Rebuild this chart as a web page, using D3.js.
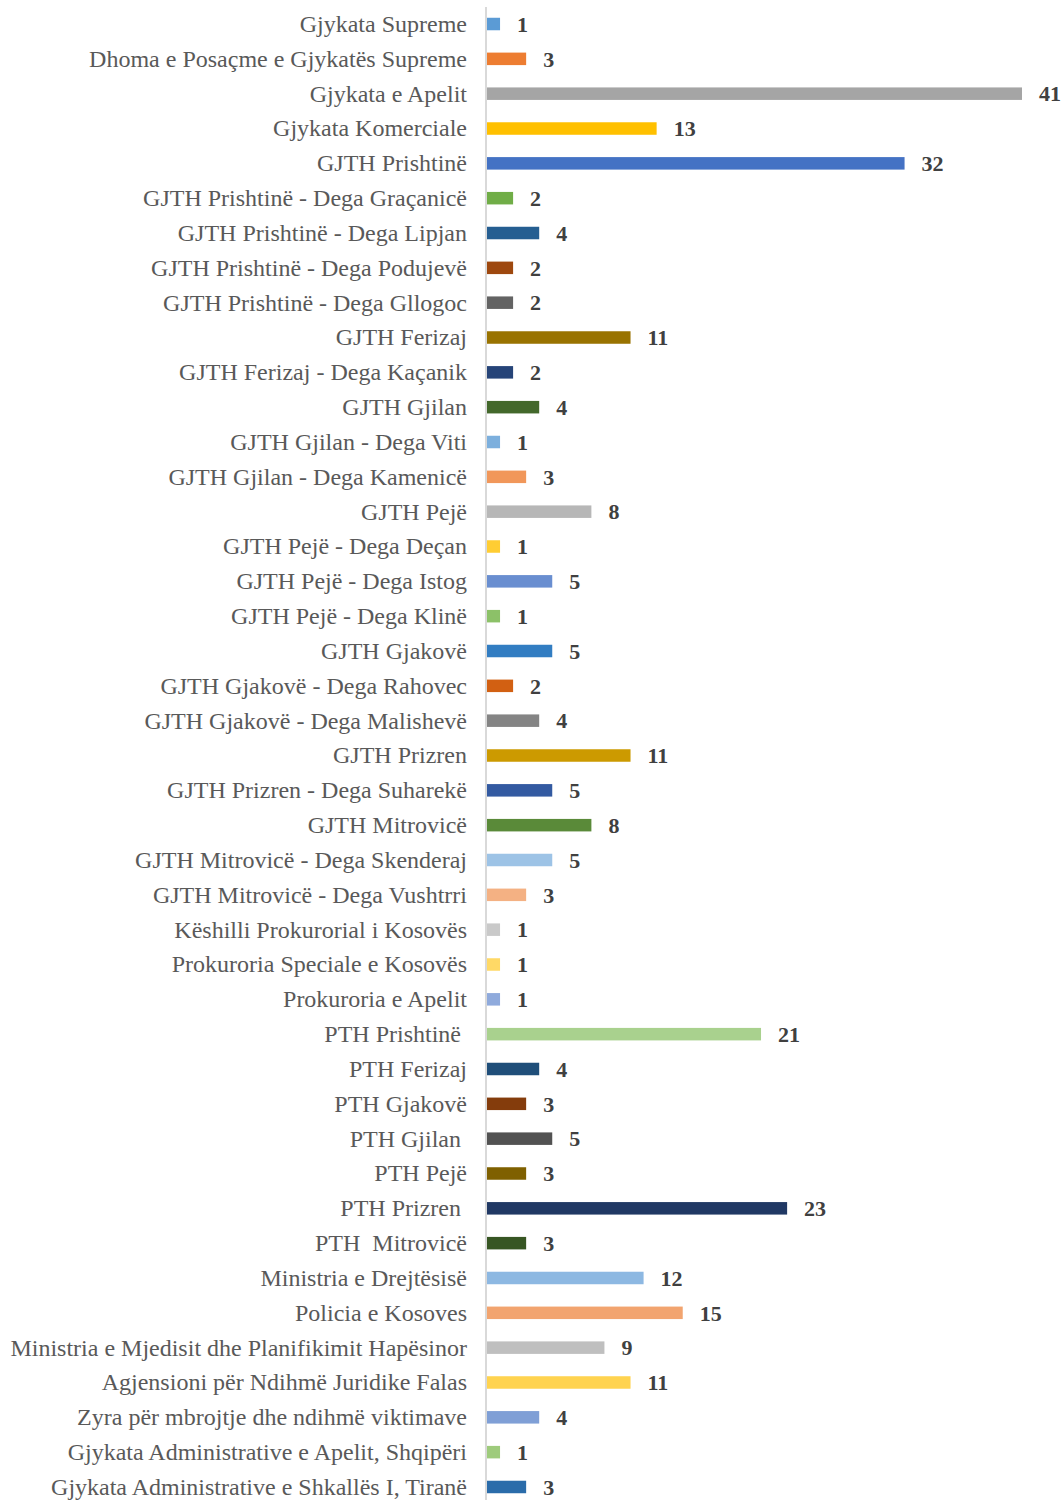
<!DOCTYPE html>
<html>
<head>
<meta charset="utf-8">
<script src="https://cdn.jsdelivr.net/npm/d3@7"></script>
<style>
  body { margin: 0; background: #fff; }
  .cat { font-family: "Liberation Serif", "Times New Roman", serif; font-size: 24px; fill: #595959; }
  .val { font-family: "Liberation Serif", "Times New Roman", serif; font-size: 22px; font-weight: bold; fill: #404040; }
</style>
</head>
<body>
<div id="chart"></div>
<script>
// categories, top to bottom
var categories = [
  "Gjykata Supreme",
  "Dhoma e Posaçme e Gjykatës Supreme",
  "Gjykata e Apelit",
  "Gjykata Komerciale",
  "GJTH Prishtinë",
  "GJTH Prishtinë - Dega Graçanicë",
  "GJTH Prishtinë - Dega Lipjan",
  "GJTH Prishtinë - Dega Podujevë",
  "GJTH Prishtinë - Dega Gllogoc",
  "GJTH Ferizaj",
  "GJTH Ferizaj - Dega Kaçanik",
  "GJTH Gjilan",
  "GJTH Gjilan - Dega Viti",
  "GJTH Gjilan - Dega Kamenicë",
  "GJTH Pejë",
  "GJTH Pejë - Dega Deçan",
  "GJTH Pejë - Dega Istog",
  "GJTH Pejë - Dega Klinë",
  "GJTH Gjakovë",
  "GJTH Gjakovë - Dega Rahovec",
  "GJTH Gjakovë - Dega Malishevë",
  "GJTH Prizren",
  "GJTH Prizren - Dega Suharekë",
  "GJTH Mitrovicë",
  "GJTH Mitrovicë - Dega Skenderaj",
  "GJTH Mitrovicë - Dega Vushtrri",
  "Këshilli Prokurorial i Kosovës",
  "Prokuroria Speciale e Kosovës",
  "Prokuroria e Apelit",
  "PTH Prishtinë ",
  "PTH Ferizaj",
  "PTH Gjakovë",
  "PTH Gjilan ",
  "PTH Pejë",
  "PTH Prizren ",
  "PTH  Mitrovicë",
  "Ministria e Drejtësisë",
  "Policia e Kosoves",
  "Ministria e Mjedisit dhe Planifikimit Hapësinor",
  "Agjensioni për Ndihmë Juridike Falas",
  "Zyra për mbrojtje dhe ndihmë viktimave",
  "Gjykata Administrative e Apelit, Shqipëri",
  "Gjykata Administrative e Shkallës I, Tiranë"
]

var values = [1, 3, 41, 13, 32, 2, 4, 2, 2, 11, 2, 4, 1, 3, 8, 1, 5, 1, 5, 2, 4, 11, 5, 8, 5, 3,
  1, 1, 1, 21, 4, 3, 5, 3, 23, 3, 12, 15, 9, 11, 4, 1, 3]

// excel "vary colors by point" palette, one per bar
var barColors = [
  "#5b9bd5", "#ed7d31", "#a5a5a5", "#ffc000", "#4472c4", "#70ad47",
  "#255e91", "#9e480e", "#636363", "#997300", "#264478", "#43682b",
  "#7cafdd", "#f1975a", "#b7b7b7", "#ffcd33", "#698ed0", "#8cc168",
  "#327dc2", "#d26012", "#848484", "#cc9a00", "#335aa1", "#5a8a39",
  "#9dc3e6", "#f4b183", "#c9c9c9", "#ffd966", "#8faadc", "#a9d18e",
  "#1f4e79", "#843c0c", "#525252", "#7f6000", "#203864", "#375623",
  "#8db8e2", "#f2a46f", "#bfbfbf", "#ffd34f", "#7f9fd6", "#9ecb7c",
  "#2a6caa"
]

var data = categories.map(function (c, i) {
  return { name: c, value: values[i], color: barColors[i] }
})

var width = 1063,
    height = 1500,
    plotLeft = 487,
    plotRight = 1022,
    barH = 12.5

var svg = d3.select("#chart")
  .append("svg")
    .attr("width", width)
    .attr("height", height)

var y = d3.scaleBand()
  .domain(categories)
  .range([6.6, 1504.4])
  .padding(0)

var x = d3.scaleLinear()
  .domain([0, d3.max(values)])
  .range([plotLeft, plotRight])

// category labels
svg.append("g")
  .selectAll("text")
  .data(data)
  .enter()
  .append("text")
   .attr("class", "cat")
   .attr("x", plotLeft - 20)
   .attr("y", function (d) { return y(d.name) + y.bandwidth() / 2 })
   .attr("dy", "0.33em")
   .attr("text-anchor", "end")
   .style("white-space", "pre")
   .text(function (d) { return d.name })

// bars
svg.append("g")
  .selectAll("rect")
  .data(data)
  .enter()
  .append("rect")
   .attr("x", x(0))
   .attr("y", function (d) { return y(d.name) + (y.bandwidth() - barH) / 2 })
   .attr("width", function (d) { return x(d.value) - x(0) })
   .attr("height", barH)
   .attr("fill", function (d) { return d.color })

// vertical axis line
svg.append("line")
  .attr("x1", plotLeft - 1)
  .attr("x2", plotLeft - 1)
  .attr("y1", 7)
  .attr("y2", height)
  .attr("stroke", "#d9d9d9")
  .attr("stroke-width", 2)

// value labels
svg.append("g")
  .selectAll("text")
  .data(data)
  .enter()
  .append("text")
   .attr("class", "val")
   .attr("x", function (d) { return x(d.value) + 17 })
   .attr("y", function (d) { return y(d.name) + y.bandwidth() / 2 })
   .attr("dy", "0.35em")
   .text(function (d) { return d.value })
</script>
</body>
</html>
